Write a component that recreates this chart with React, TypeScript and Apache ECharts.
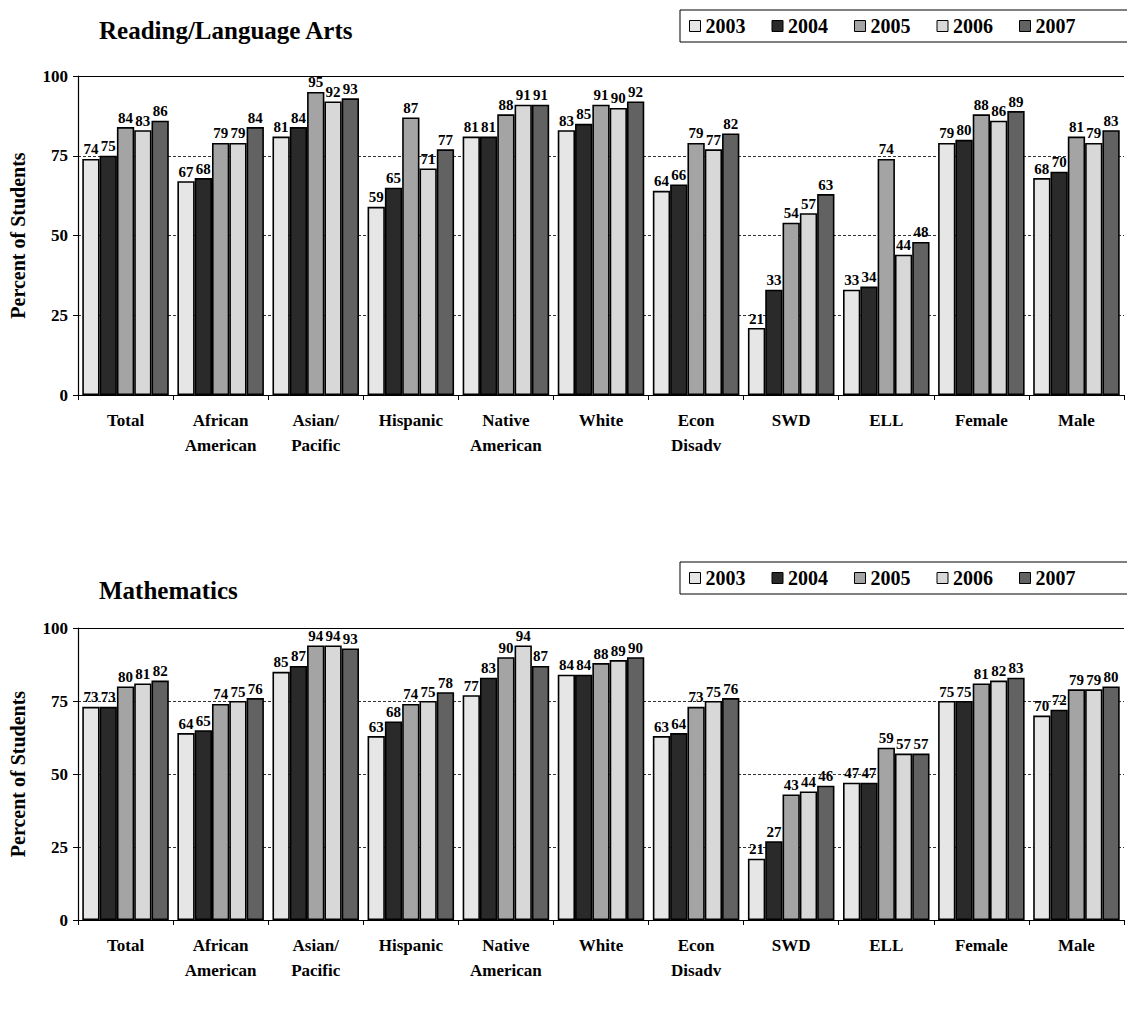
import React, { useEffect, useRef } from "react";
import * as echarts from "echarts";

const categories = [
  "Total",
  "African\nAmerican",
  "Asian/\nPacific",
  "Hispanic",
  "Native\nAmerican",
  "White",
  "Econ\nDisadv",
  "SWD",
  "ELL",
  "Female",
  "Male",
];
const years = ["2003", "2004", "2005", "2006", "2007"];

// Reading/Language Arts, per year, per category
const reading2003 = [74, 67, 81, 59, 81, 83, 64, 21, 33, 79, 68];
const reading2004 = [75, 68, 84, 65, 81, 85, 66, 33, 34, 80, 70];
const reading2005 = [84, 79, 95, 87, 88, 91, 79, 54, 74, 88, 81];
const reading2006 = [83, 79, 92, 71, 91, 90, 77, 57, 44, 86, 79];
const reading2007 = [86, 84, 93, 77, 91, 92, 82, 63, 48, 89, 83];

// Mathematics
const math2003 = [73, 64, 85, 63, 77, 84, 63, 21, 47, 75, 70];
const math2004 = [73, 65, 87, 68, 83, 84, 64, 27, 47, 75, 72];
const math2005 = [80, 74, 94, 74, 90, 88, 73, 43, 59, 81, 79];
const math2006 = [81, 75, 94, 75, 94, 89, 75, 44, 57, 82, 79];
const math2007 = [82, 76, 93, 78, 87, 90, 76, 46, 57, 83, 80];

const yTicks = [0, 25, 50, 75, 100];

const readingSeries = [reading2003, reading2004, reading2005, reading2006, reading2007];
const mathSeries = [math2003, math2004, math2005, math2006, math2007];

const barColors = ["#e6e6e6", "#2a2a2a", "#a4a4a4", "#d8d8d8", "#626262"];
const FONT = "Liberation Serif";

export default function App() {
  const ref = useRef<HTMLDivElement>(null);

  useEffect(() => {
    if (!ref.current) return;
    const chart = echarts.init(ref.current, undefined, { renderer: "svg" });

    const grids = [
      { left: 77, top: 76, width: 1047, height: 319 },
      { left: 77, top: 628, width: 1047, height: 292 },
    ];

    const makeX = (gi: number) => ({
      type: "category",
      gridIndex: gi,
      data: categories,
      axisLine: { show: true, lineStyle: { color: "#000", width: 1.2 } },
      axisTick: { show: true, length: 5, lineStyle: { color: "#000" } },
      axisLabel: {
        color: "#000",
        fontFamily: FONT,
        fontWeight: "bold",
        fontSize: 17,
        lineHeight: 25,
        margin: 13,
        interval: 0,
      },
      splitLine: { show: false },
    });

    const makeY = (gi: number) => ({
      type: "value",
      gridIndex: gi,
      min: yTicks[0],
      max: yTicks[yTicks.length - 1],
      interval: 25,
      name: "Percent of Students",
      nameLocation: "middle",
      nameRotate: 90,
      nameGap: 50,
      nameTextStyle: {
        color: "#000",
        fontFamily: FONT,
        fontWeight: "bold",
        fontSize: 20,
      },
      axisLine: { show: true, lineStyle: { color: "#000", width: 1.2 } },
      axisTick: { show: true, length: 5, lineStyle: { color: "#000" } },
      axisLabel: {
        color: "#000",
        fontFamily: FONT,
        fontWeight: "bold",
        fontSize: 17,
        margin: 10,
      },
      splitLine: {
        show: true,
        lineStyle: { color: "#333", type: [3, 2], width: 1 },
      },
    });

    const makeSeries = (data: number[][], gi: number) =>
      data.map((vals, i) => ({
        name: years[i],
        type: "bar",
        xAxisIndex: gi,
        yAxisIndex: gi,
        data: vals,
        barGap: "0%",
        barCategoryGap: "9%",
        itemStyle: { color: barColors[i], borderColor: "#000", borderWidth: 1.6 },
        label: {
          show: true,
          position: "top",
          distance: 2,
          color: "#000",
          fontFamily: FONT,
          fontWeight: "bold",
          fontSize: 15,
        },
        markLine:
          i === 0
            ? {
                silent: true,
                symbol: "none",
                label: { show: false },
                lineStyle: { color: "#000", type: "solid", width: 1.2 },
                data: [{ yAxis: 100 }],
              }
            : undefined,
      }));

    const makeLegend = (top: number) => ({
      data: years,
      left: 689,
      top,
      orient: "horizontal",
      itemWidth: 11,
      itemHeight: 11,
      itemGap: 26,
      padding: 0,
      icon: "rect",
      textStyle: {
        color: "#000",
        fontFamily: FONT,
        fontWeight: "bold",
        fontSize: 20,
      },
      itemStyle: { borderColor: "#000", borderWidth: 1 },
      selectedMode: false,
    });

    const legendBox = (y: number) => ({
      type: "rect",
      shape: { x: 680, y, width: 470, height: 32 },
      style: { fill: "none", stroke: "#000", lineWidth: 1 },
      silent: true,
    });

    chart.setOption({
      animation: false,
      backgroundColor: "#fff",
      title: [
        {
          text: "Reading/Language Arts",
          left: 94,
          top: 13,
          textStyle: { color: "#000", fontFamily: FONT, fontWeight: "bold", fontSize: 25 },
        },
        {
          text: "Mathematics",
          left: 94,
          top: 573,
          textStyle: { color: "#000", fontFamily: FONT, fontWeight: "bold", fontSize: 25 },
        },
      ],
      legend: [makeLegend(16), makeLegend(568)],
      graphic: [legendBox(10), legendBox(562)],
      grid: grids,
      xAxis: [makeX(0), makeX(1)],
      yAxis: [makeY(0), makeY(1)],
      series: [...makeSeries(readingSeries, 0), ...makeSeries(mathSeries, 1)],
    });

    return () => chart.dispose();
  }, []);

  return (
    <div
      ref={ref}
      style={{ position: "absolute", left: 0, top: 0, width: 1127, height: 1014 }}
    />
  );
}
